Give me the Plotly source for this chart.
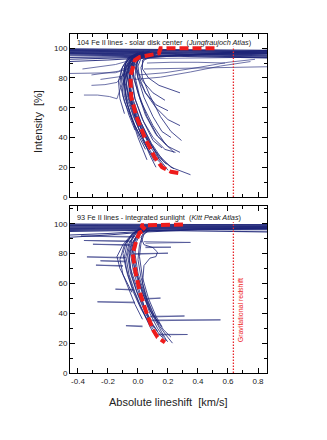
"""Fe II line bisectors: solar disk center vs integrated sunlight (two stacked panels)."""
import plotly.graph_objects as go
from plotly.subplots import make_subplots

# ---- axes ---------------------------------------------------------------
X_RANGE = [-0.453, 0.86]
Y_RANGE_TOP = [0, 109.5]
Y_RANGE_BOT = [0, 112]
X_TICKS = [-0.4, -0.2, 0.0, 0.2, 0.4, 0.6, 0.8]
X_TICK_LABELS = ["-0.4", "-0.2", "0.0", "0.2", "0.4", "0.6", "0.8"]
Y_TICKS = [0, 20, 40, 60, 80, 100]
GRAV_REDSHIFT = 0.636          # km/s
GRAV_LINE_Y = [0, 101]

# ---- top panel: 104 Fe II lines, disk center --------------------------
BAND_X = [-0.453, -0.2, 0.05, 0.4, 0.86]
TOP_BAND_Y = [
    [99.5, 99.3, 99.0, 98.8, 98.5],
    [99.0, 98.8, 98.6, 98.3, 98.0],
    [98.5, 98.3, 98.2, 98.0, 97.6],
    [98.0, 97.9, 97.8, 97.4, 97.0],
    [97.5, 97.4, 97.3, 96.8, 96.3],
    [97.0, 96.9, 96.8, 96.2, 95.5],
    [96.5, 96.4, 96.2, 95.5, 94.8],
    [96.0, 95.8, 95.6, 94.8, 94.0],
    [95.2, 95.0, 95.0, 94.2, 93.5],
    [93.8, 94.0, 94.5, 95.5, 96.5],
    [92.5, 93.0, 94.0, 95.8, 97.5],
    [91.0, 92.0, 93.5, 96.0, 98.5],
]
TOP_CORE = [
    ([0.10, 0.00, -0.03, -0.06, -0.05, -0.02, 0.04, 0.12, 0.22, 0.35], [97, 95, 92, 80, 68, 55, 42, 30, 20, 15]),
    ([0.08, -0.01, -0.05, -0.08, -0.07, -0.03, 0.02, 0.08, 0.12], [98, 96, 92, 80, 68, 55, 42, 28, 20]),
    ([0.05, -0.03, -0.07, -0.10, -0.09, -0.05, 0.00, 0.06], [97, 95, 90, 80, 68, 55, 40, 25]),
    ([0.12, 0.02, -0.02, -0.04, -0.02, 0.03, 0.10, 0.18, 0.25], [96, 94, 91, 80, 66, 52, 40, 32, 30]),
    ([0.06, -0.02, -0.05, -0.07, -0.05, 0.00, 0.07, 0.14, 0.20], [97, 95, 91, 80, 67, 53, 38, 26, 18]),
    ([0.04, -0.04, -0.08, -0.11, -0.10, -0.06, -0.02], [98, 95, 90, 80, 68, 55, 45]),
    ([0.03, -0.05, -0.10, -0.13, -0.12, -0.09], [97, 94, 88, 78, 66, 56]),
    ([0.08, 0.00, -0.04, -0.05, -0.02, 0.04, 0.10, 0.16], [96, 94, 90, 80, 66, 50, 38, 33]),
    ([0.10, 0.02, 0.00, 0.01, 0.05, 0.12, 0.20, 0.28], [96, 93, 88, 80, 70, 60, 52, 48]),
    ([0.05, -0.02, -0.04, -0.03, 0.02, 0.10, 0.18, 0.24], [97, 95, 90, 80, 64, 48, 36, 30]),
    ([0.02, -0.06, -0.09, -0.09, -0.05, 0.01, 0.08, 0.15], [97, 94, 88, 78, 64, 48, 34, 24]),
    ([0.07, 0.00, -0.02, 0.00, 0.05, 0.12, 0.20], [96, 93, 88, 80, 70, 62, 58]),
    ([0.09, 0.03, 0.03, 0.07, 0.14, 0.22, 0.28], [95, 92, 86, 80, 75, 72, 70]),
    ([0.06, 0.00, -0.01, 0.03, 0.10, 0.18], [96, 92, 86, 78, 70, 65]),
    ([0.04, -0.03, -0.06, -0.07, -0.04, 0.02, 0.09, 0.17, 0.24], [97, 94, 90, 80, 66, 50, 36, 24, 19]),
    ([0.00, -0.07, -0.11, -0.12, -0.09, -0.04, 0.02], [97, 93, 86, 76, 64, 52, 40]),
    ([0.05, -0.01, -0.03, -0.03, 0.00, 0.05, 0.12, 0.20, 0.28], [96, 94, 90, 82, 70, 55, 42, 34, 30]),
    ([0.11, 0.04, 0.02, 0.03, 0.08, 0.15, 0.22, 0.29], [95, 92, 87, 80, 68, 54, 44, 38]),
    ([0.02, -0.05, -0.08, -0.10, -0.08, -0.03, 0.03, 0.10, 0.17], [97, 94, 90, 80, 68, 54, 40, 28, 21]),
    ([0.06, -0.01, -0.04, -0.06, -0.04, 0.01, 0.08], [97, 95, 90, 78, 63, 48, 36]),
    ([0.03, -0.04, -0.08, -0.09, -0.07, -0.02, 0.04, 0.10], [97, 94, 88, 76, 62, 48, 36, 27]),
    ([0.07, 0.01, -0.02, -0.05, -0.06, -0.03, 0.01, 0.06, 0.11], [97, 95, 91, 82, 70, 57, 45, 33, 24]),
    ([0.04, -0.02, -0.06, -0.09, -0.08, -0.04, 0.01, 0.05], [97, 94, 89, 79, 66, 52, 40, 32]),
    ([0.09, 0.02, -0.01, -0.02, 0.01, 0.06, 0.13, 0.19], [96, 94, 90, 81, 68, 54, 41, 35]),
    ([0.05, -0.02, -0.05, -0.06, -0.03, 0.02, 0.08, 0.14, 0.19], [97, 95, 90, 79, 65, 50, 37, 27, 22]),
    ([0.03, -0.03, -0.07, -0.08, -0.06, -0.02, 0.03], [97, 94, 89, 79, 66, 54, 46]),
    ([0.08, 0.01, -0.01, 0.00, 0.04, 0.10, 0.16, 0.22], [96, 94, 89, 80, 67, 54, 44, 40]),
]
TOP_SHALLOW = [
    ([-0.37, -0.26, -0.15, -0.08, -0.03, 0.02], [86, 87.5, 89, 91, 94, 97]),
    ([-0.31, -0.22, -0.13, -0.08, -0.04, 0.00], [82, 83, 84.5, 87, 92, 96]),
    ([-0.25, -0.18, -0.11, -0.06, -0.03, 0.00], [79, 80, 81, 84, 90, 96]),
    ([-0.31, -0.22, -0.14, -0.10, -0.06, -0.02], [75, 75.5, 77, 82, 90, 96]),
    ([-0.36, -0.27, -0.19, -0.14, -0.12, -0.07, -0.02], [68.5, 68.5, 67.5, 66, 72, 84, 95]),
    ([-0.453, -0.30, -0.15, -0.07, -0.03, 0.01], [83, 83, 83.5, 86, 91, 96]),
    ([-0.02, 0.15, 0.35, 0.55, 0.75], [79, 80.5, 84, 88, 91]),
    ([0.00, 0.18, 0.40, 0.60, 0.78], [82, 83.5, 87, 90.5, 92.5]),
    ([0.04, 0.25, 0.45, 0.65, 0.86], [86, 86.5, 87, 87.5, 87.5]),
    ([0.06, 0.22, 0.40, 0.58], [90, 90.5, 90.5, 90]),
    ([0.02, 0.20, 0.50, 0.86], [93, 93, 93.5, 94]),
]
TOP_MEAN_X = [0.51, 0.35, 0.15, 0.14, 0.08, 0.01, -0.02, -0.05, -0.045, -0.01, 0.045, 0.11, 0.16, 0.22, 0.28]
TOP_MEAN_Y = [100, 100, 100, 96.5, 95.5, 94, 92, 81, 67, 54, 40, 27, 20, 17, 16]

# ---- bottom panel: 93 Fe II lines, integrated sunlight ----------------
BOT_BAND_Y = [
    [99.8, 99.6, 99.5, 99.5, 99.5],
    [99.3, 99.2, 99.0, 99.0, 99.0],
    [98.8, 98.7, 98.6, 98.6, 98.6],
    [98.3, 98.2, 98.2, 98.2, 98.2],
    [97.8, 97.8, 97.8, 97.8, 97.8],
    [97.3, 97.3, 97.4, 97.4, 97.4],
    [96.8, 96.8, 96.9, 97.0, 97.1],
    [96.2, 96.3, 96.5, 96.6, 96.8],
    [95.5, 95.8, 96.0, 96.0, 96.0],
    [94.8, 95.2, 95.7, 95.2, 94.6],
    [92.5, 93.5, 95.0, 96.5, 97.0],
    [91.0, 92.5, 94.5, 96.0, 96.5],
]
BOT_CORE = [
    ([0.05, 0.00, -0.03, -0.05, -0.03, 0.01, 0.05, 0.10, 0.15, 0.20], [97, 94, 88, 80, 68, 55, 42, 32, 25, 21]),
    ([0.03, -0.02, -0.06, -0.08, -0.06, -0.02, 0.03, 0.08, 0.12], [97, 93, 87, 78, 66, 54, 42, 31, 24]),
    ([0.07, 0.02, -0.01, -0.02, 0.00, 0.04, 0.09, 0.14, 0.19, 0.23], [97, 94, 88, 80, 67, 54, 42, 32, 25, 20]),
    ([0.02, -0.04, -0.09, -0.12, -0.10, -0.06, -0.02, 0.03], [97, 93, 86, 76, 66, 56, 46, 36]),
    ([0.04, -0.01, -0.04, -0.06, -0.05, -0.01, 0.04, 0.09, 0.13], [97, 94, 89, 80, 70, 58, 45, 34, 28]),
    ([0.06, 0.01, -0.02, -0.03, -0.01, 0.03, 0.08, 0.13, 0.17], [96, 93, 88, 80, 68, 54, 40, 30, 24]),
    ([0.01, -0.05, -0.10, -0.14, -0.12, -0.08, -0.04], [97, 92, 86, 78, 70, 62, 54]),
    ([0.08, 0.04, 0.02, 0.01, 0.03, 0.07, 0.12, 0.16], [96, 93, 87, 78, 64, 50, 38, 31]),
    ([0.03, -0.02, -0.05, -0.07, -0.05, -0.01, 0.04, 0.08, 0.11], [97, 94, 88, 79, 67, 55, 44, 34, 30]),
    ([0.05, 0.02, 0.04, 0.10, 0.13, 0.12, 0.08, 0.04, 0.03, 0.06, 0.10], [96, 91, 86, 84, 81, 78, 77, 72, 60, 48, 38]),
    ([0.02, -0.03, -0.08, -0.10, -0.08, -0.04, 0.01, 0.06], [97, 93, 87, 80, 70, 58, 46, 36]),
    ([0.06, 0.01, -0.02, -0.04, -0.02, 0.02, 0.07, 0.12, 0.16, 0.19], [97, 94, 89, 80, 68, 56, 44, 34, 27, 22]),
    ([0.04, 0.00, -0.03, -0.04, -0.02, 0.03, 0.08, 0.14], [96, 93, 88, 80, 69, 55, 42, 33]),
    ([0.07, 0.03, 0.01, 0.00, 0.02, 0.06, 0.11, 0.17, 0.22], [96, 92, 86, 76, 64, 50, 38, 29, 24]),
    ([0.03, -0.03, -0.07, -0.09, -0.07, -0.03, 0.02, 0.07, 0.11], [97, 94, 88, 78, 66, 54, 43, 34, 28]),
    ([0.05, 0.00, -0.04, -0.06, -0.04, 0.00, 0.05, 0.10], [97, 93, 87, 77, 65, 52, 40, 31]),
]
BOT_SPIKES = [
    ([-0.02, -0.38, -0.03], [91.5, 91.8, 91]),
    ([-0.04, -0.36, -0.05], [88.5, 88.8, 88]),
    ([-0.05, -0.30, -0.06], [86, 86.3, 85.5]),
    ([-0.08, -0.34, -0.09], [77.5, 77.8, 77]),
    ([-0.08, -0.25, -0.09], [75, 75.2, 74.5]),
    ([-0.10, -0.28, -0.10], [72, 72.3, 71.5]),
    ([-0.03, -0.15, -0.03], [56, 56.2, 55.5]),
    ([-0.02, -0.27, -0.02], [47.5, 47.7, 47]),
    ([0.03, -0.08, 0.03], [31.5, 31.7, 31]),
    ([0.04, 0.35, 0.05], [88, 87.5, 87]),
    ([0.05, 0.22, 0.05], [84.5, 84.3, 84]),
    ([0.06, 0.15, 0.06], [50, 50.2, 49.5]),
    ([0.08, 0.31, 0.09], [38, 38.2, 37.5]),
    ([0.08, 0.55, 0.09], [35.5, 35.6, 35]),
    ([0.12, 0.33, 0.13], [26, 25.8, 25.5]),
    ([-0.03, 0.20, -0.03], [80, 80.3, 79.5]),
]
BOT_MEAN_X = [0.30, 0.15, 0.02, 0.05, 0.01, -0.01, -0.035, -0.015, 0.013, 0.058, 0.10, 0.13, 0.18]
BOT_MEAN_Y = [99.5, 99.5, 99, 96, 94, 89, 80, 67, 54, 40, 29, 24, 20.5]

TOP_TITLE = "104 Fe II lines - solar disk center\u00a0 (<i>Jungfraujoch Atlas</i>)"
BOT_TITLE = "93 Fe II lines - integrated sunlight\u00a0 (<i>Kitt Peak Atlas</i>)"

NAVY = "#1d2478"
RED = "#ee1c1c"
INK = "#222222"
FONT = "Liberation Sans, Arial, sans-serif"

fig = make_subplots(rows=2, cols=1, shared_xaxes=True, vertical_spacing=0.03)


def add_lines(lines, row, width=0.9, opacity=0.9):
    for xs, ys in lines:
        fig.add_trace(go.Scatter(x=xs, y=ys, mode="lines", showlegend=False, hoverinfo="skip",
                                 line=dict(color=NAVY, width=width), opacity=opacity),
                      row=row, col=1)


for row, band, core, extra, mx, my in [
    (1, TOP_BAND_Y, TOP_CORE, TOP_SHALLOW, TOP_MEAN_X, TOP_MEAN_Y),
    (2, BOT_BAND_Y, BOT_CORE, BOT_SPIKES, BOT_MEAN_X, BOT_MEAN_Y),
]:
    add_lines([(BAND_X, ys) for ys in band], row, width=1.1)
    add_lines(core, row)
    add_lines(extra, row, width=0.8, opacity=0.8)
    # gravitational redshift marker
    fig.add_trace(go.Scatter(x=[GRAV_REDSHIFT] * 2, y=GRAV_LINE_Y, mode="lines", showlegend=False,
                             line=dict(color="#e8262b", width=1.3, dash="1.5px,1.5px")), row=row, col=1)
    # mean bisector
    fig.add_trace(go.Scatter(x=mx, y=my, mode="lines", showlegend=False,
                             line=dict(color=RED, width=4, dash="9px,4px")), row=row, col=1)

axis_common = dict(
    range=X_RANGE, showline=True, linecolor="black", linewidth=1, mirror="ticks",
    ticks="inside", ticklen=5, tickcolor="black", showgrid=False, zeroline=False,
    tickvals=X_TICKS, ticktext=X_TICK_LABELS,
    minor=dict(dtick=0.1, tick0=0, ticks="inside", ticklen=3, tickcolor="black"),
    tickfont=dict(size=8, color=INK, family=FONT),
)
fig.update_xaxes(**axis_common)
fig.update_xaxes(showticklabels=False, row=1, col=1)
fig.update_yaxes(
    showline=True, linecolor="black", linewidth=1, mirror="ticks",
    ticks="inside", ticklen=5, tickcolor="black", showgrid=False, zeroline=False,
    tickvals=Y_TICKS, minor=dict(dtick=10, tick0=0, ticks="inside", ticklen=3, tickcolor="black"),
    tickfont=dict(size=8, color=INK, family=FONT),
)
fig.update_yaxes(range=Y_RANGE_TOP, domain=[0.519, 1.0], row=1, col=1)
fig.update_yaxes(range=Y_RANGE_BOT, domain=[0.0, 0.493], row=2, col=1)

fig.add_annotation(x=-0.42, y=103.5, xref="x", yref="y", text=TOP_TITLE, showarrow=False,
                   xanchor="left", font=dict(size=7.3, color=INK, family=FONT))
fig.add_annotation(x=-0.42, y=104, xref="x2", yref="y2", text=BOT_TITLE, showarrow=False,
                   xanchor="left", font=dict(size=7.3, color=INK, family=FONT))
fig.add_annotation(x=0.68, y=42, xref="x2", yref="y2", text="Gravitational redshift", textangle=-90,
                   showarrow=False, font=dict(size=7, color=RED, family=FONT))
fig.add_annotation(x=0, y=0.46, xref="paper", yref="y domain", xshift=-32,
                   xanchor="center", yanchor="middle",
                   text="Intensity\u00a0 [%]", textangle=-90, showarrow=False,
                   font=dict(size=11, color=INK, family=FONT))
fig.add_annotation(x=0.5, y=0, xref="paper", yref="paper", yshift=-29,
                   xanchor="center", yanchor="middle",
                   text="Absolute lineshift\u00a0 [km/s]", showarrow=False,
                   font=dict(size=11, color=INK, family=FONT))

# the page body adds an 8px offset, so margins are trimmed by that amount
fig.update_layout(
    width=327, height=440, margin=dict(l=62, r=68, t=26, b=75),
    paper_bgcolor="white", plot_bgcolor="white", showlegend=False,
    font=dict(family=FONT, color=INK),
)
fig.write_html("out.html")
